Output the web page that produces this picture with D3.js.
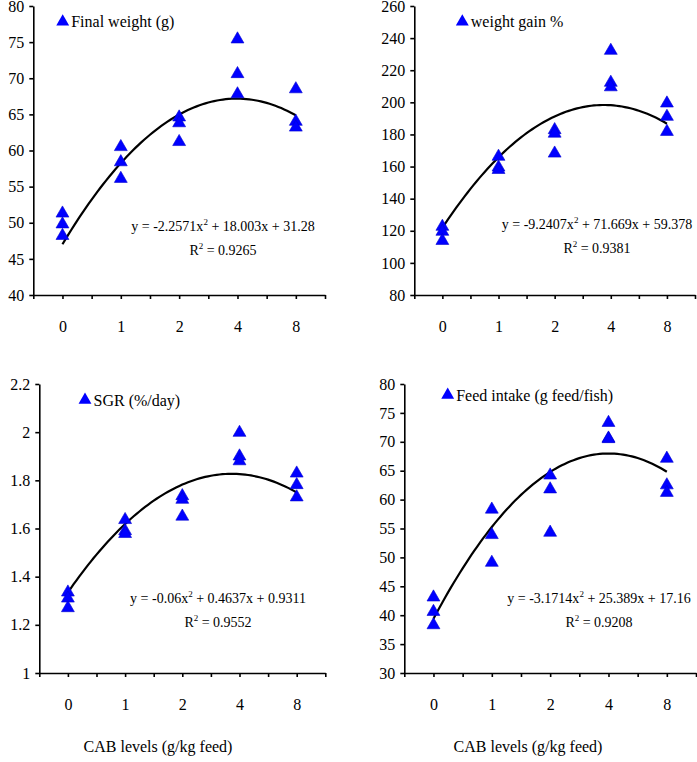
<!DOCTYPE html>
<html>
<head>
<meta charset="utf-8">
<script src="https://cdn.jsdelivr.net/npm/d3@7"></script>
<style>
  body { margin: 0; background: #fff; }
  svg { display: block; font-family: "Liberation Serif", "Times New Roman", serif; }
</style>
</head>
<body>
<div id="chart"></div>
<script>
// CAB levels (categories on every x axis)
const levels = ['0', '1', '2', '4', '8'];

// replicate values per level
const finalWeight = [[51.3, 49.8, 48.2], [60.5, 58.4, 56.1], [64.6, 63.8, 61.2], [75.4, 70.6, 67.8], [68.5, 64.0, 63.2]];
const weightGain = [[122.6, 119.5, 113.8], [166.2, 159.5, 158.0], [182.8, 180.6, 168.2], [232.2, 212.3, 209.5], [199.4, 191.1, 181.7]];
const sgr = [[1.335, 1.31, 1.27], [1.636, 1.59, 1.578], [1.735, 1.72, 1.65], [1.998, 1.90, 1.88], [1.829, 1.781, 1.73]];
const feedIntake = [[43.1, 40.6, 38.3], [58.3, 53.9, 49.1], [64.2, 61.8, 54.3], [73.3, 70.6, 70.5], [67.1, 62.5, 61.2]];

// polynomial trendline coefficients (a, b, c) as printed, and R²
const fitFinalWeight = [-2.2571, 18.003, 31.28];
const fitWeightGain = [-9.2407, 71.669, 59.378];
const fitSgr = [-0.06, 0.4637, 0.9311];
const fitFeedIntake = [-3.1714, 25.389, 17.16];
const r2Values = ['0.9265', '0.9381', '0.9552', '0.9208'];

const legendLabels = ['Final weight (g)', 'weight gain %', 'SGR (%/day)', 'Feed intake (g feed/fish)'];
const xTitle = 'CAB levels (g/kg feed)';

const panels = [
  { data: finalWeight, fit: fitFinalWeight, eqText: ['-2.2571x', ' + 18.003x + 31.28'],
    domain: [40, 80], step: 5, left: 33.3, right: 325, top: 6, bottom: 295,
    legend: [62.7, 21.7], eq: [223, 231] },
  { data: weightGain, fit: fitWeightGain, eqText: ['-9.2407x', ' + 71.669x + 59.378'],
    domain: [80, 260], step: 20, left: 414.3, right: 695, top: 6, bottom: 295,
    legend: [462.3, 21.7], eq: [597, 229] },
  { data: sgr, fit: fitSgr, eqText: ['-0.06x', ' + 0.4637x + 0.9311'],
    domain: [1, 2.2], step: 0.2, left: 39.3, right: 325.3, top: 384, bottom: 673,
    legend: [85, 400], eq: [218, 603], title: 158 },
  { data: feedIntake, fit: fitFeedIntake, eqText: ['-3.1714x', ' + 25.389x + 17.16'],
    domain: [30, 80], step: 5, left: 404.3, right: 696, top: 384, bottom: 673,
    legend: [447.7, 395], eq: [599, 603], title: 528 }
];

const svg = d3.select('#chart').append('svg')
  .attr('width', 697)
  .attr('height', 762);

const triangle = d3.symbol().type(d3.symbolTriangle).size(72);

panels.forEach((p, i) => {
  const g = svg.append('g');

  const y = d3.scaleLinear().domain(p.domain).range([p.bottom, p.top]);
  // index scale: 0.5 .. 5.5 spans the axis, categories sit on the integers
  const xi = d3.scaleLinear().domain([0.5, levels.length + 0.5]).range([p.left, p.right]);

  const yTicks = d3.range(p.domain[0], p.domain[1] + p.step / 2, p.step);
  const yAxis = d3.axisLeft(y)
    .tickValues(yTicks)
    .tickSize(4)
    .tickSizeOuter(0)
    .tickPadding(5)
    .tickFormat(v => String(+v.toFixed(1)));
  const ya = g.append('g')
    .attr('transform', `translate(${p.left},0)`)
    .call(yAxis);

  const xTicks = d3.range(0.5, levels.length + 0.51, 0.5);
  const xAxis = d3.axisBottom(xi)
    .tickValues(xTicks)
    .tickSize(4)
    .tickSizeOuter(0)
    .tickPadding(22)
    .tickFormat(v => Number.isInteger(v) ? levels[v - 1] : '');
  const xa = g.append('g')
    .attr('transform', `translate(0,${p.bottom})`)
    .call(xAxis);

  [ya, xa].forEach(a => {
    a.selectAll('path, line').attr('stroke', '#000').attr('stroke-width', 1.6);
    a.selectAll('text').attr('font-size', 16).attr('fill', '#000')
      .attr('font-family', '"Liberation Serif", "Times New Roman", serif');
  });

  // trendline, drawn from the printed equation
  const [a, b, c] = p.fit;
  const tVals = d3.range(1, 5.001, 0.05);
  const line = d3.line()
    .x(t => xi(t))
    .y(t => y(a * t * t + b * t + c))
    .curve(d3.curveLinear);
  g.append('path')
    .attr('d', line(tVals))
    .attr('fill', 'none')
    .attr('stroke', '#000')
    .attr('stroke-width', 2.2);

  // points
  const pts = [];
  p.data.forEach((vals, k) => vals.forEach(v => pts.push({ k: k + 1, v })));
  g.selectAll('path.pt')
    .data(pts)
    .enter()
    .append('path')
    .attr('class', 'pt')
    .attr('d', triangle)
    .attr('transform', d => `translate(${xi(d.k)},${y(d.v)})`)
    .attr('fill', '#0000ff')
    .attr('stroke', '#0000d0')
    .attr('stroke-width', 0.6);

  // legend
  g.append('path')
    .attr('d', triangle)
    .attr('transform', `translate(${p.legend[0]},${p.legend[1]})`)
    .attr('fill', '#0000ff');
  g.append('text')
    .attr('x', p.legend[0] + 8.5)
    .attr('y', p.legend[1] + 5.5)
    .attr('font-size', 16)
    .text(legendLabels[i]);

  // equation and R²
  const eq = g.append('text')
    .attr('x', p.eq[0])
    .attr('y', p.eq[1])
    .attr('text-anchor', 'middle')
    .attr('font-size', 14);
  eq.append('tspan').text('y = ' + p.eqText[0]);
  eq.append('tspan').attr('font-size', 9).attr('dy', -6).text('2');
  eq.append('tspan').attr('dy', 6).text(p.eqText[1]);

  const r = g.append('text')
    .attr('x', p.eq[0])
    .attr('y', p.eq[1] + 24)
    .attr('text-anchor', 'middle')
    .attr('font-size', 14);
  r.append('tspan').text('R');
  r.append('tspan').attr('font-size', 9).attr('dy', -6).text('2');
  r.append('tspan').attr('dy', 6).text(' = ' + r2Values[i]);

  if (p.title) {
    g.append('text')
      .attr('x', p.title)
      .attr('y', 752)
      .attr('text-anchor', 'middle')
      .attr('font-size', 16)
      .text(xTitle);
  }
});
</script>
</body>
</html>
